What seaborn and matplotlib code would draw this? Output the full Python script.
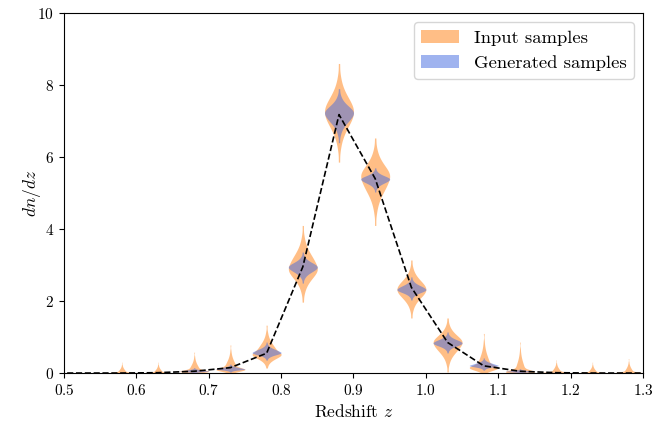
import numpy as np
import pandas as pd
import matplotlib
matplotlib.use("Agg")
import matplotlib.pyplot as plt
import matplotlib.patches as mpatches
import seaborn as sns

plt.rcParams["font.family"] = "serif"
plt.rcParams["font.serif"] = ["cmr10"]
plt.rcParams["mathtext.fontset"] = "cm"
plt.rcParams["axes.formatter.use_mathtext"] = True

# redshift bin centres
z_bins = [0.58, 0.63, 0.68, 0.73, 0.78, 0.83, 0.88, 0.93, 0.98, 1.03, 1.08, 1.13, 1.18, 1.23, 1.28]

# true dn/dz (dashed line)
z_line = [0.48, 0.53, 0.58, 0.63, 0.68, 0.73, 0.78, 0.83, 0.88, 0.93, 0.98, 1.03, 1.08, 1.13, 1.18, 1.23, 1.28, 1.33]
dndz_line = [0.0, 0.0, 0.0, 0.01, 0.05, 0.15, 0.55, 2.95, 7.18, 5.4, 2.38, 0.85, 0.2, 0.05, 0.01, 0.0, 0.0, 0.0]

# input samples: centre, lower tip, upper tip
inp_mid = [0.0, 0.0, 0.06, 0.12, 0.56, 2.94, 7.25, 5.42, 2.33, 0.83, 0.18, 0.04, 0.01, 0.0, 0.0]
inp_lo = [0.0, 0.0, 0.0, 0.0, 0.14, 1.97, 5.86, 4.10, 1.53, 0.03, 0.0, 0.0, 0.0, 0.0, 0.0]
inp_hi = [0.30, 0.30, 0.58, 0.78, 1.33, 4.10, 8.60, 6.53, 3.14, 1.53, 1.10, 0.86, 0.36, 0.30, 0.40]

# generated samples: centre, lower tip, upper tip
gen_mid = [0.0, 0.0, 0.06, 0.12, 0.58, 2.94, 7.20, 5.38, 2.33, 0.84, 0.22, 0.05, 0.01, 0.0, 0.0]
gen_lo = [0.0, 0.0, 0.0, 0.03, 0.36, 2.50, 6.40, 5.03, 2.03, 0.56, 0.08, 0.0, 0.0, 0.0, 0.0]
gen_hi = [0.01, 0.01, 0.15, 0.25, 0.86, 3.36, 7.90, 5.70, 2.67, 1.14, 0.42, 0.12, 0.03, 0.01, 0.01]

# fixed standardised (logistic) quantiles used to spread each bin between its tips
n = 80
p = (np.arange(n) + 0.5) / n
q = np.log(p / (1 - p))
q = q / q.max()


def spread(mid, lo, hi):
    return np.where(q < 0, mid + q * (mid - lo), mid + q * (hi - mid))


rows = []
for label, mids, los, his in [("Input samples", inp_mid, inp_lo, inp_hi),
                              ("Generated samples", gen_mid, gen_lo, gen_hi)]:
    for z, m, lo, hi in zip(z_bins, mids, los, his):
        for v in spread(m, lo, hi):
            rows.append((z, v, label))
df = pd.DataFrame(rows, columns=["z", "dndz", "series"])

colors = {"Input samples": "tab:orange", "Generated samples": "royalblue"}

fig = plt.figure(figsize=(6.66, 4.22), dpi=100)
ax = fig.add_axes([0.096, 0.116, 0.8695, 0.853])

sns.violinplot(data=df, x="z", y="dndz", hue="series",
               hue_order=["Input samples", "Generated samples"],
               palette=colors, native_scale=True, dodge=False,
               cut=0, density_norm="width", width=0.8, inner=None,
               linewidth=0, saturation=1, alpha=0.5, bw_adjust=0.7,
               legend=False, ax=ax)

sns.lineplot(x=z_line, y=dndz_line, color="black", linestyle="--",
             linewidth=1.2, ax=ax, zorder=5)

ax.set_xlim(0.5, 1.3)
ax.set_ylim(0, 10)
ax.set_xticks(np.arange(0.5, 1.31, 0.1))
ax.set_yticks(range(0, 11, 2))
ax.tick_params(labelsize=11)
ax.set_xlabel("Redshift $z$", fontsize=12.5)
ax.set_ylabel("$dn/dz$", fontsize=12.5, labelpad=-4)

patch1 = mpatches.Patch(color="tab:orange", alpha=0.5, linewidth=0)
patch2 = mpatches.Patch(color="royalblue", alpha=0.5, linewidth=0)
ax.legend([patch1, patch2], ["Input samples", "Generated samples"],
          loc="upper right", fontsize=13.4)

fig.savefig("out.png", dpi=100)
